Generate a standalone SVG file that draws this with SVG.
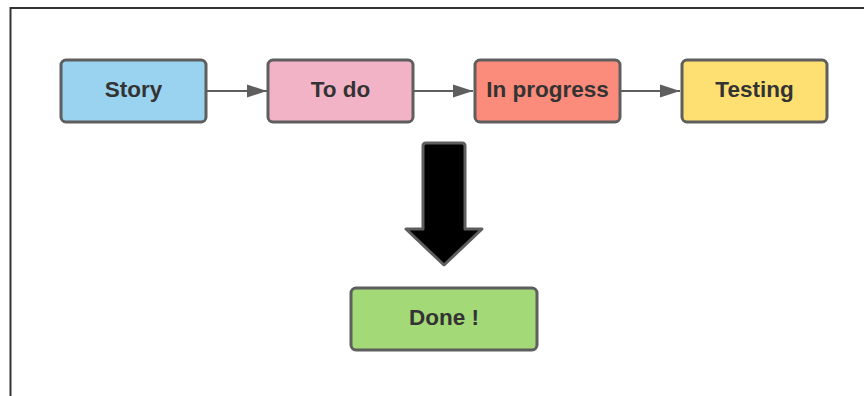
<svg xmlns="http://www.w3.org/2000/svg" width="864" height="396" viewBox="0 0 864 396">
<style>
.box{stroke:#5e5e5e;stroke-width:3}
.lbl{font-family:"Liberation Sans",Arial,sans-serif;font-weight:bold;font-size:22.5px;fill:#333;text-anchor:middle}
.conn{stroke:#5e5e5e;stroke-width:2;fill:none}
</style>
<defs>
<marker id="ah" markerUnits="userSpaceOnUse" markerWidth="21" markerHeight="14" refX="20" refY="7" orient="auto">
<path d="M0,0.5 L20,7 L0,13.5 Z" fill="#5e5e5e"/>
</marker>
</defs>
<rect x="0" y="0" width="864" height="396" fill="#fff"/>
<path d="M10.5,396 V8 H864" fill="none" stroke="#333" stroke-width="2"/>
<g id="connectors">
<line class="conn" x1="207" y1="91" x2="267" y2="91" marker-end="url(#ah)"/>
<line class="conn" x1="414" y1="91" x2="473" y2="91" marker-end="url(#ah)"/>
<line class="conn" x1="621" y1="91" x2="680" y2="91" marker-end="url(#ah)"/>
<path id="bigarrow" d="M426,143 H462 Q465,143 465,146 V229 H482 L444,265 L406,229 H423 V146 Q423,143 426,143 Z" fill="#000" stroke="#5e5e5e" stroke-width="3" stroke-linejoin="round"/>
</g>
<g id="story"><rect class="box" x="61" y="60" width="145" height="62" rx="5" fill="#9ad3f0"/><text class="lbl" x="133.5" y="97">Story</text></g>
<g id="todo"><rect class="box" x="268" y="60" width="145" height="62" rx="5" fill="#f2b3c6"/><text class="lbl" x="340.5" y="97">To do</text></g>
<g id="inprogress"><rect class="box" x="475" y="60" width="145" height="62" rx="5" fill="#fb8b7a"/><text class="lbl" x="547.5" y="97">In progress</text></g>
<g id="testing"><rect class="box" x="682" y="60" width="145" height="62" rx="5" fill="#fddf72"/><text class="lbl" x="754.5" y="97">Testing</text></g>
<g id="done"><rect class="box" x="351" y="288" width="186" height="62" rx="5" fill="#a3d977"/><text class="lbl" x="444" y="325">Done !</text></g>
</svg>
